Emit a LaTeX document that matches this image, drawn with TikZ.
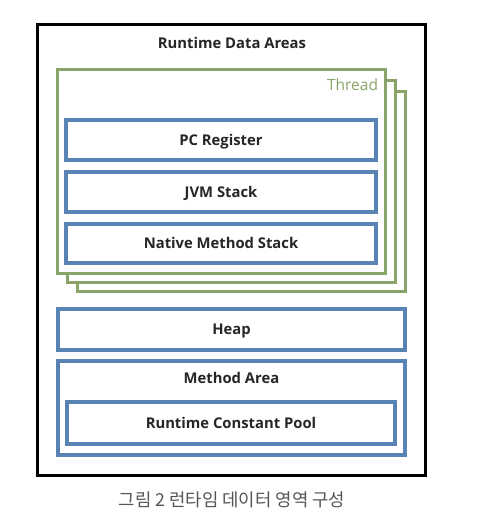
\documentclass[tikz,border=0pt]{standalone}
\usepackage{fontspec}
\setmainfont{Open Sans}
\newfontfamily\krfont{Noto Sans CJK KR}
\definecolor{boxblue}{RGB}{88,131,180}
\definecolor{thrgreen}{RGB}{136,164,104}
\definecolor{capgray}{RGB}{85,85,85}
\begin{document}
\begin{tikzpicture}[x=1pt,y=-1pt,
  every node/.style={inner sep=0pt,outer sep=0pt},
  areabox/.style={draw=black,line width=3pt,fill=white},
  threadbox/.style={draw=thrgreen,line width=3pt,fill=white},
  bluebox/.style={draw=boxblue,line width=4pt,fill=white,text height=10.5pt,text depth=0pt,
     font=\fontsize{14.8}{17}\selectfont\bfseries,text=black!85},
  lbl/.style={font=\fontsize{14.8}{17}\selectfont\bfseries,text=black!85,text height=10.5pt,text depth=0pt}]
\useasboundingbox (0,0) rectangle (478,518);
\fill[white] (0,0) rectangle (478,518);
% outer area
\node[areabox,minimum width=388pt,minimum height=451pt] (outer) at (231,250) {};
\node[lbl] (title) at (232,43) {Runtime Data Areas};
% thread stack
\node[threadbox,minimum width=328pt,minimum height=200pt] (thread3) at (241,191.5) {};
\node[threadbox,minimum width=328pt,minimum height=201pt] (thread2) at (231,181.5) {};
\node[threadbox,minimum width=328pt,minimum height=203pt] (thread1) at (221,171.5) {};
\node[font=\fontsize{15.5}{18}\selectfont,text=thrgreen,anchor=east,text height=11pt,text depth=0pt] (threadlabel) at (378,85) {Thread};
% thread components
\node[bluebox,minimum width=310pt,minimum height=40pt] (pc) at (221,140) {PC Register};
\node[bluebox,minimum width=310pt,minimum height=40pt] (jvm) at (221,192) {JVM Stack};
\node[bluebox,minimum width=310pt,minimum height=39pt] (native) at (221,243.5) {Native Method Stack};
% shared areas
\node[bluebox,minimum width=347pt,minimum height=41pt] (heap) at (231.5,329.5) {Heap};
\node[draw=boxblue,line width=4pt,fill=white,minimum width=347pt,minimum height=94pt] (method) at (231.5,408) {};
\node[lbl] (methodlabel) at (231.5,378) {Method Area};
\node[bluebox,minimum width=328pt,minimum height=42pt] (rcp) at (231,423) {Runtime Constant Pool};
% caption
\node[font=\krfont\fontsize{17.8}{20}\selectfont,text=capgray] (caption) at (232,500) {그림 2 런타임 데이터 영역 구성};
\end{tikzpicture}
\end{document}
